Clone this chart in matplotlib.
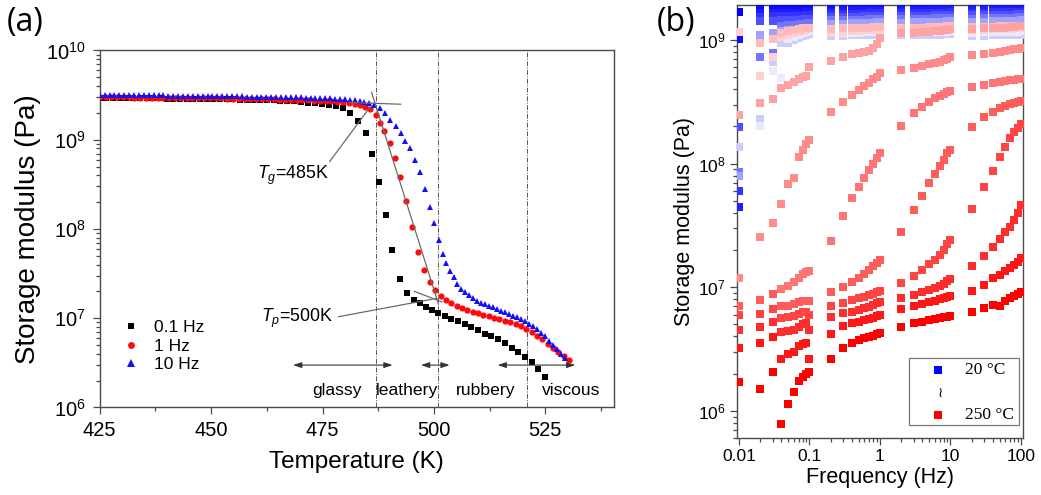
import numpy as np
import matplotlib
matplotlib.use("Agg")
import matplotlib.pyplot as plt
from matplotlib import colors as mcolors
from matplotlib.ticker import LogLocator, FixedLocator, FixedFormatter, NullFormatter
from matplotlib.patches import Rectangle

plt.rcParams['font.family'] = ['Liberation Sans', 'DejaVu Sans']
plt.rcParams['mathtext.fontset'] = 'custom'
plt.rcParams['mathtext.rm'] = 'Liberation Sans'
plt.rcParams['mathtext.it'] = 'Liberation Sans:italic'
plt.rcParams['mathtext.bf'] = 'Liberation Sans:bold'

# ---------------- Panel (a): temperature sweeps (values in MPa) ----------------
series_labels = ['0.1 Hz', '1 Hz', '10 Hz']

T_01Hz = [425.0, 426.5, 428.0, 429.5, 431.0, 432.5, 434.0, 435.5, 437.0, 438.5,
          440.0, 441.5, 443.0, 444.5, 446.0, 447.5, 449.0, 450.5, 452.0, 453.5,
          455.0, 456.5, 458.0, 459.5, 461.0, 462.5, 464.0, 465.5, 467.0, 468.6,
          470.2, 471.8, 473.3, 474.8, 476.4, 478.0, 479.6, 481.2, 483.0, 484.7,
          486.2, 487.7, 489.2, 490.6, 492.4, 494.0, 495.5, 496.9, 498.3, 499.6,
          501.0, 502.4, 503.9, 505.4, 506.9, 508.4, 509.9, 511.4, 512.9, 514.4,
          515.9, 517.4, 518.9, 520.4, 521.9, 523.4, 525.0]
E_01Hz_MPa = [2940, 2940, 2930, 2930, 2920, 2920, 2910, 2910, 2900, 2900,
              2890, 2890, 2880, 2880, 2870, 2870, 2860, 2850, 2850, 2840,
              2830, 2820, 2810, 2800, 2790, 2770, 2760, 2740, 2720, 2700,
              2640, 2600, 2560, 2520, 2470, 2390, 2250, 2010, 1630, 1200,
              686, 333, 143, 58, 27.2, 19.3, 16.2, 14.7, 13.5, 12.4,
              11.4, 10.6, 9.9, 9.3, 8.7, 7.9, 7.3, 6.7, 6.3, 5.8,
              5.3, 4.7, 4.2, 3.7, 3.2, 2.7, 2.2]

T_1Hz = [425.0, 426.3, 427.6, 428.9, 430.2, 431.5, 432.8, 434.1, 435.4, 436.7,
         438.0, 439.3, 440.6, 441.9, 443.2, 444.5, 445.8, 447.1, 448.4, 449.7,
         451.0, 452.3, 453.6, 454.9, 456.2, 457.5, 458.8, 460.1, 461.4, 462.7,
         464.0, 465.3, 466.6, 467.9, 469.2, 470.5, 471.8, 473.1, 474.4, 475.7,
         477.0, 478.3, 479.6, 480.9, 482.2, 483.5, 484.6, 485.7, 487.0, 488.0,
         488.9, 490.1, 491.3, 492.4, 493.7, 495.0, 496.4, 497.8, 499.1, 500.3,
         501.5, 502.7, 503.9, 505.1, 506.3, 507.5, 508.7, 509.9, 511.1, 512.3,
         513.5, 514.7, 515.9, 517.1, 518.3, 519.5, 520.7, 521.9, 523.1, 524.3,
         525.5, 526.7, 527.9, 529.1, 530.2]
E_1Hz_MPa = [3000, 3000, 2990, 2990, 2980, 2980, 2970, 2970, 2960, 2960,
             2950, 2950, 2940, 2940, 2930, 2930, 2920, 2920, 2910, 2910,
             2900, 2900, 2890, 2890, 2880, 2880, 2870, 2860, 2850, 2840,
             2830, 2820, 2810, 2800, 2790, 2780, 2770, 2750, 2730, 2710,
             2690, 2660, 2630, 2590, 2540, 2450, 2350, 2190, 1890, 1550,
             1250, 920, 620, 385, 206, 106, 55, 35, 25.6, 20.7,
             17.8, 16.0, 14.7, 13.7, 12.9, 12.3, 11.8, 11.3, 10.9, 10.5,
             10.1, 9.8, 9.4, 9.0, 8.6, 8.1, 7.6, 7.0, 6.4, 5.8,
             5.2, 4.7, 4.2, 3.8, 3.4]

T_10Hz = [425.0, 426.1, 427.2, 428.3, 429.4, 430.5, 431.6, 432.7, 433.8, 434.9,
          436.0, 437.1, 438.2, 439.3, 440.4, 441.5, 442.6, 443.7, 444.8, 445.9,
          447.0, 448.1, 449.2, 450.3, 451.4, 452.5, 453.6, 454.7, 455.8, 456.9,
          458.0, 459.1, 460.2, 461.3, 462.4, 463.5, 464.6, 465.7, 466.8, 467.9,
          469.0, 470.1, 471.2, 472.3, 473.4, 474.5, 475.6, 476.7, 477.8, 478.9,
          480.0, 481.1, 482.2, 483.3, 484.4, 485.5, 486.6, 487.8, 489.0, 490.2,
          491.4, 492.5, 493.6, 494.7, 495.8, 496.9, 498.0, 499.1, 500.1, 501.1,
          502.0, 502.8, 503.6, 504.4, 505.2, 506.1, 507.0, 507.9, 508.8, 509.7,
          510.6, 511.5, 512.4, 513.3, 514.2, 515.1, 516.0, 516.9, 517.8, 518.7,
          519.6, 520.5, 521.4, 522.3, 523.2, 524.1, 525.0, 525.9, 526.8, 527.7,
          528.6, 529.5]
E_10Hz_MPa = [3200, 3200, 3190, 3190, 3180, 3180, 3170, 3170, 3160, 3160,
              3150, 3150, 3140, 3140, 3130, 3130, 3120, 3120, 3110, 3110,
              3100, 3100, 3090, 3090, 3080, 3080, 3070, 3070, 3060, 3060,
              3050, 3050, 3040, 3040, 3030, 3030, 3020, 3010, 3010, 3000,
              2990, 2980, 2970, 2960, 2950, 2940, 2930, 2910, 2890, 2870,
              2850, 2820, 2780, 2730, 2670, 2600, 2480, 2280, 2000, 1680,
              1430, 1180, 980, 800, 600, 430, 280, 176, 116, 76,
              53, 42, 34, 29, 24.5, 21.5, 19.5, 18.0, 16.8, 15.8,
              15.0, 14.3, 13.7, 13.2, 12.7, 12.2, 11.7, 11.2, 10.7, 10.2,
              9.7, 9.2, 8.7, 8.1, 7.5, 6.9, 6.3, 5.6, 5.0, 4.5,
              4.0, 3.6]

region_names = ['glassy', 'leathery', 'rubbery', 'viscous']
boundary_T = [487.0, 500.8, 520.9]
Tg_text = '$T_g$=485K'
Tp_text = '$T_p$=500K'

# ---------------- Panel (b): frequency sweeps (values in MPa) ----------------
freq_Hz = [0.01, 0.02, 0.03, 0.04, 0.05, 0.06, 0.07, 0.08, 0.09, 0.1,
           0.2, 0.3, 0.4, 0.5, 0.6, 0.7, 0.8, 0.9, 1,
           2, 3, 4, 5, 6, 7, 8, 9, 10,
           20, 30, 40, 50, 60, 70, 80, 90, 100]
freq_tick_labels = ['0.01', '0.1', '1', '10', '100']
nan = np.nan

E_20C = [1700, 1830, 1830, 1830, 1835, 1835, 1840, 1840, 1840, 1845,
         1850, 1850, 1855, 1855, 1855, 1860, 1860, 1860, 1865,
         1860, 1865, 1865, 1870, 1870, 1870, 1875, 1875, 1875,
         1870, 1875, 1875, 1880, 1880, 1880, 1885, 1885, 1885]
E_30C = [1010, 1740, 1745, 1750, 1750, 1755, 1755, 1760, 1760, 1765,
         1780, 1785, 1785, 1790, 1790, 1795, 1795, 1800, 1800,
         1800, 1805, 1805, 1810, 1810, 1815, 1815, 1820, 1820,
         1810, 1815, 1815, 1820, 1820, 1825, 1825, 1830, 1830]
E_40C = [45, 1640, 1650, 1650, 1655, 1660, 1660, 1665, 1670, 1670,
         1700, 1705, 1710, 1710, 1715, 1715, 1720, 1720, 1725,
         1720, 1725, 1730, 1730, 1735, 1735, 1740, 1740, 1745,
         1740, 1745, 1745, 1750, 1750, 1755, 1755, 1760, 1760]
E_55C = [60, 1540, 1550, 1555, 1560, 1565, 1570, 1575, 1580, 1585,
         1620, 1625, 1630, 1635, 1635, 1640, 1640, 1645, 1650,
         1640, 1645, 1650, 1655, 1655, 1660, 1660, 1665, 1670,
         1660, 1665, 1670, 1675, 1675, 1680, 1680, 1685, 1690]
E_75C = [199, 1420, 1430, 1440, 1450, 1455, 1460, 1470, 1475, 1480,
         1530, 1535, 1540, 1545, 1550, 1555, 1555, 1560, 1565,
         1560, 1565, 1570, 1575, 1580, 1580, 1585, 1590, 1590,
         1580, 1585, 1590, 1595, 1600, 1600, 1605, 1610, 1610]
E_100C = [86, 730, 790, 1300, 1315, 1330, 1340, 1350, 1360, 1370,
          1440, 1450, 1455, 1460, 1465, 1470, 1475, 1480, 1480,
          1470, 1480, 1485, 1490, 1495, 1500, 1500, 1505, 1510,
          1490, 1500, 1505, 1510, 1515, 1520, 1520, 1525, 1530]
E_130C = [80, 1100, 1150, 1180, 1200, 1215, 1230, 1240, 1250, 1260,
          1350, 1360, 1365, 1370, 1375, 1380, 1385, 1390, 1390,
          1380, 1390, 1395, 1400, 1405, 1410, 1410, 1415, 1420,
          1400, 1410, 1415, 1420, 1425, 1430, 1430, 1435, 1440]
E_160C = [137, 230, 670, 940, 940, 1000, 1040, 1070, 1090, 1110,
          1080, 1085, 1090, 1090, 1095, 1095, 1100, 1100, 1105,
          1090, 1095, 1100, 1100, 1105, 1105, 1110, 1110, 1115,
          1080, 1085, 1090, 1090, 1095, 1095, 1100, 1100, 1100]
E_180C = [nan, 200, 565, 490, 1010, 1060, 1100, 1130, 1160, 1180,
          1140, 1145, 1150, 1150, 1155, 1155, 1160, 1160, 1165,
          1150, 1155, 1160, 1160, 1165, 1165, 1170, 1170, 1175,
          1150, 1155, 1160, 1160, 1165, 1165, 1170, 1170, 1175]
E_205C = [1170, 510, 730, 1060, 1100, 1130, 1160, 1190, 1210, 1240,
          1150, 1170, 1180, 1190, 1200, 1200, 1210, 1210, 1220,
          1180, 1190, 1200, 1200, 1210, 1210, 1220, 1220, 1230,
          1200, 1210, 1220, 1220, 1230, 1230, 1240, 1240, 1250]
E_210C = [nan, 940, 1010, 1150, 1180, 1200, 1220, 1240, 1250, 1260,
          1230, 1240, 1250, 1250, 1260, 1260, 1270, 1270, 1280,
          1250, 1260, 1260, 1270, 1270, 1280, 1280, 1290, 1290,
          1270, 1280, 1280, 1290, 1290, 1300, 1300, 1310, 1310]
E_215C = [247, 310, 333, 410, 433, 460, 481, 499, 512, 610,
          676, 724, 770, 780, 795, 820, 860, 930, 1030,
          1130, 1150, 1160, 1170, 1180, 1190, 1200, 1210, 1220,
          1230, 1240, 1250, 1260, 1260, 1270, 1280, 1290, 1300]
E_220C = [11.9, 25.6, 32.9, 47, 69, 76, 114, 130, 144, 155,
          263, 317, 359, 394, 424, 452, 481, 505, 537,
          571, 597, 617, 636, 655, 667, 688, 706, 733,
          757, 770, 790, 804, 815, 830, 842, 847, 857]
E_225C = [nan, nan, nan, 9.70, 10.3, 11.1, 11.8, 12.7, 13.4, 13.6,
          23.7, 38, 53, 65, 76, 89, 100, 112, 121,
          203, 255, 289, 317, 337, 352, 366, 382, 390,
          414, 433, 452, 460, 469, 474, 476, 481, 481]
E_230C = [7.08, 7.87, 8.75, 7.08, 7.05, 7.26, 7.55, 7.73, 7.80, 7.73,
          9.08, 10.1, 11.1, 11.9, 12.7, 13.8, 14.9, 15.8, 16.6,
          28.1, 42, 54.7, 69.2, 83, 95, 108, 121, 130,
          199, 237, 263, 280, 292, 302, 311, 317, 323]
E_235C = [5.96, 6.07, 6.62, 5.60, 5.70, 5.89, 6.07, 6.34, 6.26, 6.02,
          7.08, 7.49, 7.87, 8.12, 8.38, 8.64, 8.80, 9.08, 9.31,
          10.9, 12.3, 13.8, 15.3, 16.6, 18.4, 20.2, 22.2, 24.1,
          43, 65, 88, 114, 137, 162, 181, 195, 209]
E_240C = [4.51, 4.80, 5.20, 4.37, 4.42, 4.51, 4.80, 5.02, 5.10, 4.51,
          5.77, 6.14, 6.34, 6.53, 6.74, 6.95, 7.18, 7.40, 7.54,
          8.12, 8.65, 9.20, 9.49, 9.91, 10.3, 10.7, 11.2, 11.6,
          15.0, 18.0, 21.0, 24.5, 28.0, 31.0, 35.0, 40.0, 46.0]
E_245C = [3.24, 3.56, 3.93, 2.62, 2.86, 3.00, 3.34, 3.45, 3.52, 2.65,
          4.18, 4.85, 5.10, 5.26, 5.42, 5.53, 5.67, 5.85, 5.96,
          6.62, 7.05, 7.27, 7.54, 7.73, 7.98, 8.12, 8.34, 8.49,
          9.30, 10.4, 11.8, 12.6, 13.5, 14.4, 15.1, 16.1, 17.3]
E_250C = [1.72, 1.50, 2.07, 0.78, 1.13, 1.43, 1.74, 1.89, 1.97, 2.05,
          2.62, 3.20, 3.51, 3.74, 3.86, 3.98, 4.05, 4.16, 4.24,
          4.73, 5.10, 5.26, 5.40, 5.53, 5.60, 5.70, 5.77, 5.85,
          6.34, 6.83, 7.18, 7.08, 7.73, 8.12, 8.44, 8.75, 9.08]

temps_C = [20, 30, 40, 55, 75, 100, 130, 160, 180, 205, 210, 215,
           220, 225, 230, 235, 240, 245, 250]
sweeps = [E_20C, E_30C, E_40C, E_55C, E_75C, E_100C, E_130C, E_160C, E_180C,
          E_205C, E_210C, E_215C, E_220C, E_225C, E_230C, E_235C, E_240C,
          E_245C, E_250C]
legend_b_labels = ['20 \u00b0C', '250 \u00b0C']

# ---------------- Figure ----------------
fig = plt.figure(figsize=(10.41, 4.95), dpi=100)
spine_col = '#4a4a4a'

# ===== Panel (a) =====
axA = fig.add_axes([0.0958, 0.1768, 0.4936, 0.7212])
axA.set_yscale('log')
axA.set_xlim(425, 540.3)
axA.set_ylim(1e6, 1e10)

for x in boundary_T:
    axA.axvline(x, color='#555555', lw=0.7, ls=(0, (5, 1.5, 1, 1.5)), zorder=1)

axA.plot(T_01Hz, np.array(E_01Hz_MPa) * 1e6, ls='none', marker='s', ms=4.3,
         mew=0, color='black', label=series_labels[0], zorder=3)
axA.plot(T_1Hz, np.array(E_1Hz_MPa) * 1e6, ls='none', marker='o', ms=4.5,
         mew=0, color='#ff0a0a', label=series_labels[1], zorder=4)
axA.plot(T_10Hz, np.array(E_10Hz_MPa) * 1e6, ls='none', marker='^', ms=5.0,
         mew=0, color='#1010ff', label=series_labels[2], zorder=5)

tcol = '#6a6a6a'
axA.plot([481.0, 492.5], [2.62e9, 2.5e9], color=tcol, lw=0.9, zorder=6)
axA.plot([486.0, 501.0], [3.4e9, 1.45e7], color=tcol, lw=0.9, zorder=6)
axA.plot([495.6, 501.8], [2.0e7, 1.52e7], color=tcol, lw=0.9, zorder=6)
axA.plot([476.6, 485.6], [5.7e8, 2.3e9], color=tcol, lw=0.9, zorder=6)
axA.plot([478.6, 500.6], [1.04e7, 1.67e7], color=tcol, lw=0.9, zorder=6)

axA.text(476.5, 10**8.6, Tg_text, ha='right', va='center', fontsize=12.8)
axA.text(477.4, 10**7.0, Tp_text, ha='right', va='center', fontsize=12.8)

arrow_y = 10**6.475
for x0, x1 in [(468.4, 490.7), (497.1, 503.5), (514.3, 531.7)]:
    axA.annotate('', xy=(x1, arrow_y), xytext=(x0, arrow_y),
                 arrowprops=dict(arrowstyle='<|-|>,head_length=0.5,head_width=0.17',
                                 color='#333333', lw=0.8, shrinkA=0, shrinkB=0))
label_y = 10**6.19
for name, xc in zip(region_names, [478.3, 494.0, 511.5, 530.7]):
    axA.text(xc, label_y, name, ha='center', va='center', fontsize=12.6)

axA.xaxis.set_major_locator(FixedLocator([425, 450, 475, 500, 525]))
axA.xaxis.set_minor_locator(FixedLocator([437.5, 462.5, 487.5, 512.5, 537.5]))
axA.yaxis.set_major_locator(LogLocator(base=10, numticks=10))
axA.yaxis.set_minor_locator(LogLocator(base=10, subs=np.arange(2, 10), numticks=20))
axA.yaxis.set_minor_formatter(NullFormatter())
axA.tick_params(which='both', direction='out', color=spine_col, width=0.9)
axA.tick_params(which='major', length=5, labelsize=14.5, pad=5)
axA.tick_params(which='minor', length=3)
for s in axA.spines.values():
    s.set_color(spine_col)
    s.set_linewidth(1.0)
axA.set_xlabel('Temperature (K)', fontsize=17.5, labelpad=8)
axA.set_ylabel('Storage modulus (Pa)', fontsize=20, labelpad=4)

axA.legend(loc='upper left', bbox_to_anchor=(0.044, 0.245), frameon=False,
           fontsize=12.5, handlelength=1.0, handletextpad=0.8,
           labelspacing=0.2, borderaxespad=0, borderpad=0, markerscale=1.1)

# ===== Panel (b) =====
axB = fig.add_axes([0.7077, 0.1145, 0.2747, 0.8754])
axB.set_xscale('log')
axB.set_yscale('log')
axB.set_xlim(0.00928, 105.7)
axB.set_ylim(6.0e5, 1.92e9)

norm = mcolors.TwoSlopeNorm(vmin=20, vcenter=195, vmax=250)
cmap = plt.get_cmap('bwr')
f_arr = np.array(freq_Hz)
for tC, vals in zip(temps_C, sweeps):
    axB.plot(f_arr, np.array(vals, dtype=float) * 1e6, ls='none', marker='s',
             ms=5.5, mew=0, color=cmap(norm(tC)), zorder=3)

axB.xaxis.set_major_locator(FixedLocator([0.01, 0.1, 1, 10, 100]))
axB.xaxis.set_major_formatter(FixedFormatter(freq_tick_labels))
axB.xaxis.set_minor_locator(LogLocator(base=10, subs=np.arange(2, 10), numticks=20))
axB.xaxis.set_minor_formatter(NullFormatter())
axB.yaxis.set_major_locator(LogLocator(base=10, numticks=10))
axB.yaxis.set_minor_locator(LogLocator(base=10, subs=np.arange(2, 10), numticks=20))
axB.yaxis.set_minor_formatter(NullFormatter())
axB.tick_params(which='both', direction='out', color=spine_col, width=0.9)
axB.tick_params(which='major', length=5, labelsize=12.5, pad=3)
axB.tick_params(which='minor', length=3)
for s in axB.spines.values():
    s.set_color(spine_col)
    s.set_linewidth(1.0)
axB.set_xlabel('Frequency (Hz)', fontsize=15.5, labelpad=2)
axB.set_ylabel('Storage modulus (Pa)', fontsize=15.5, labelpad=2)

# manual legend box
axB.add_patch(Rectangle((0.6035, 0.031), 0.3845, 0.154, transform=axB.transAxes,
                        fill=True, facecolor='white', edgecolor='#777777', lw=0.9,
                        zorder=10))
serif = ['Liberation Serif', 'DejaVu Serif']
axB.plot([0.703], [0.158], transform=axB.transAxes, ls='none', marker='s', ms=5.3,
         mew=0, color=cmap(norm(temps_C[0])), zorder=11, clip_on=False)
axB.plot([0.703], [0.054], transform=axB.transAxes, ls='none', marker='s', ms=5.3,
         mew=0, color=cmap(norm(temps_C[-1])), zorder=11, clip_on=False)
axB.text(0.798, 0.158, legend_b_labels[0], transform=axB.transAxes, ha='left',
         va='center', fontsize=12.5, family=serif, zorder=12)
axB.text(0.798, 0.054, legend_b_labels[1], transform=axB.transAxes, ha='left',
         va='center', fontsize=12.5, family=serif, zorder=12)
axB.text(0.71, 0.104, '\u2240', transform=axB.transAxes, ha='center', va='center',
         fontsize=10, family=['DejaVu Serif', 'DejaVu Sans'], zorder=12)

# panel letters
fig.text(25 / 1041, 1 - 22 / 495, '(a)', ha='center', va='center', fontsize=23,
         family=['Open Sans', 'DejaVu Sans'])
fig.text(676 / 1041, 1 - 22 / 495, '(b)', ha='center', va='center', fontsize=23,
         family=['Open Sans', 'DejaVu Sans'])

fig.savefig('out.png', dpi=100)
